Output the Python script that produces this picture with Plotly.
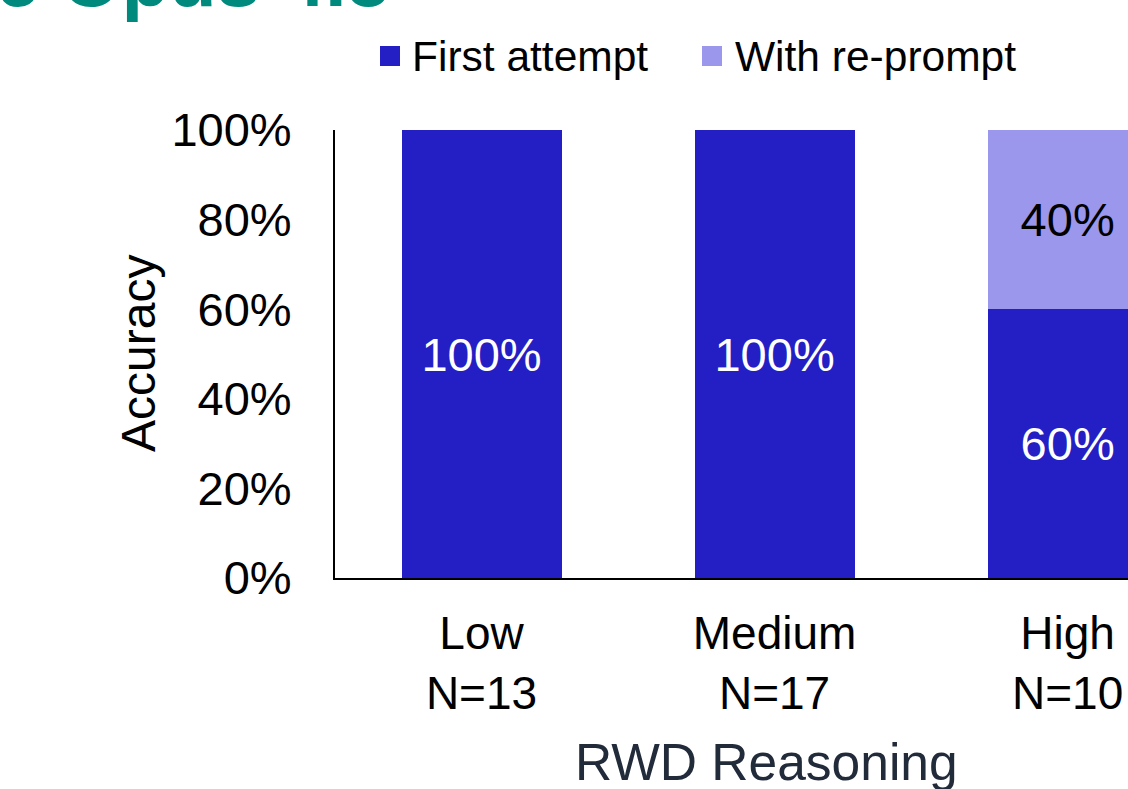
import plotly.graph_objects as go

# Data
categories = ["Low", "Medium", "High"]
sample_sizes = [13, 17, 10]
first_attempt = [1.00, 1.00, 0.60]
with_reprompt = [0.00, 0.00, 0.40]
series_names = ["First attempt", "With re-prompt"]
y_ticks = [0, 0.2, 0.4, 0.6, 0.8, 1.0]

title_text = "Claude Opus 4.5"
x_title = "RWD Reasoning"
y_title = "Accuracy"

# Styling
W, H = 1128, 789
L, R, T, B = 335, 0, 130, 211
DARK = "#231FC5"
LIGHT = "#9B97EC"
TEAL = "#008A7E"
FONT = "Liberation Sans, Arial, sans-serif"

plot_w = W - L - R
plot_h = H - T - B


def px2x(px):
    return (px - L) / plot_w


def py2y(py):
    return (H - B - py) / plot_h


tick_text = [f"{c}<br>N={n}" for c, n in zip(categories, sample_sizes)]


def pct_labels(vals):
    return [f"{round(v * 100)}%" if v > 0 else "" for v in vals]


fig = go.Figure()
fig.add_trace(go.Bar(
    x=categories, y=first_attempt, name=series_names[0],
    marker=dict(color=DARK, line=dict(width=0)),
    width=0.546,
    text=pct_labels(first_attempt), textposition="inside",
    insidetextanchor="middle",
    textfont=dict(color="white", size=47, family=FONT),
    showlegend=False,
))
fig.add_trace(go.Bar(
    x=categories, y=with_reprompt, name=series_names[1],
    marker=dict(color=LIGHT, line=dict(width=0)),
    width=0.546,
    text=pct_labels(with_reprompt), textposition="inside",
    insidetextanchor="middle",
    textfont=dict(color="black", size=47, family=FONT),
    showlegend=False,
))

fig.update_layout(
    width=W, height=H,
    margin=dict(l=L, r=R, t=T, b=B, pad=0),
    barmode="stack",
    plot_bgcolor="white", paper_bgcolor="white",
    font=dict(family=FONT, color="black", size=46),
    uniformtext=dict(minsize=47, mode="show"),
    xaxis=dict(
        range=[-0.5, 2.206],
        tickmode="array", tickvals=categories, ticktext=tick_text,
        tickfont=dict(size=46, color="black"),
        showline=True, linecolor="black", linewidth=2,
        showgrid=False, zeroline=False, ticks="",
        ticklabelstandoff=14,
    ),
    yaxis=dict(
        range=[0, 1],
        tickmode="array", tickvals=y_ticks, tickformat=".0%",
        tickfont=dict(size=47, color="black"),
        showline=True, linecolor="black", linewidth=2,
        showgrid=False, zeroline=False, ticks="",
        ticklabelstandoff=32,
    ),
)

annotations = [
    # chart title, mostly above the visible page
    dict(text=f"<b>{title_text}</b>", xref="paper", yref="paper",
         x=px2x(392), y=py2y(25), xanchor="right", yanchor="bottom",
         showarrow=False, font=dict(size=78, color=TEAL, family=FONT)),
    # axis titles
    dict(text=y_title, xref="paper", yref="paper",
         x=px2x(138), y=0.5, xanchor="center", yanchor="middle",
         textangle=-90, showarrow=False,
         font=dict(size=48, color="black", family=FONT)),
    dict(text=x_title, xref="paper", yref="paper",
         x=px2x(766), y=py2y(762), xanchor="center", yanchor="middle",
         showarrow=False, font=dict(size=51.5, color="#222B3A", family=FONT)),
]

# legend drawn as swatches and labels
shapes = []
legend_items = [(series_names[0], DARK, 380, 410), (series_names[1], LIGHT, 702, 733)]
for name, color, sx, tx in legend_items:
    shapes.append(dict(type="rect", xref="paper", yref="paper",
                       x0=px2x(sx), x1=px2x(sx + 20), y0=py2y(66), y1=py2y(46),
                       fillcolor=color, line=dict(width=0)))
    annotations.append(dict(text=name, xref="paper", yref="paper",
                            x=px2x(tx), y=py2y(56), xanchor="left", yanchor="middle",
                            showarrow=False,
                            font=dict(size=42.5, color="black", family=FONT)))

fig.update_layout(annotations=annotations, shapes=shapes)

fig.write_html("out.html")
